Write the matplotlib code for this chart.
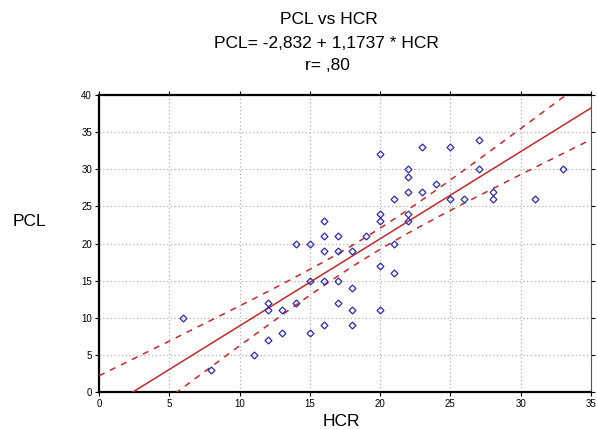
import numpy as np
import matplotlib
matplotlib.use("Agg")
import matplotlib.pyplot as plt

plt.rcParams['font.family'] = ['Liberation Sans', 'DejaVu Sans']

hcr = [6, 8, 11, 12, 12, 12, 13, 13, 14, 14, 15, 15, 15, 16, 16, 16, 16, 16,
       17, 17, 17, 17, 18, 18, 18, 18, 19, 20, 20, 20, 20, 20, 21, 21, 21,
       22, 22, 22, 22, 22, 23, 23, 24, 25, 25, 26, 27, 27, 28, 28, 31, 33]
pcl = [10, 3, 5, 12, 11, 7, 11, 8, 20, 12, 20, 15, 8, 23, 21, 19, 15, 9,
       21, 19, 15, 12, 19, 14, 11, 9, 21, 32, 24, 23, 17, 11, 26, 20, 16,
       30, 29, 27, 24, 23, 33, 27, 28, 33, 26, 26, 34, 30, 27, 26, 26, 30]
intercept = -2.832
slope = 1.1737
r_text = ",80"
xticks = [0, 5, 10, 15, 20, 25, 30, 35]
yticks = [0, 5, 10, 15, 20, 25, 30, 35, 40]

W, H = 597, 429
fig = plt.figure(figsize=(W / 100, H / 100), dpi=100)
ax = fig.add_axes([99 / W, 1 - 392 / H, (591 - 99) / W, (392 - 95) / H])

x = np.array(hcr, float)
y = np.array(pcl, float)
n = len(x)
xs = np.linspace(0, 35, 300)
fit = intercept + slope * xs
resid = y - (intercept + slope * x)
s = np.sqrt(np.sum(resid ** 2) / (n - 2))
se = s * np.sqrt(1 / n + (xs - x.mean()) ** 2 / np.sum((x - x.mean()) ** 2))
tval = 2.01
red = '#c8282a'
ax.plot(xs, fit, color=red, lw=1.1, zorder=3)
ax.plot(xs, fit + tval * se, color=red, lw=1.1, ls=(0, (4, 4)), zorder=3)
ax.plot(xs, fit - tval * se, color=red, lw=1.1, ls=(0, (4, 4)), zorder=3)

ax.plot(x, y, ls='none', marker='D', ms=3.5, mfc='none', mec='#2b2bb0',
        mew=0.9, zorder=4)

ax.set_xlim(0, 35)
ax.set_ylim(0, 40)
ax.set_xticks(xticks)
ax.set_yticks(yticks)
ax.grid(True, color='#b0b0b0', ls=(0, (1, 2)), lw=0.9)
ax.tick_params(direction='out', length=3, width=0.8, labelsize=7,
               top=True, right=True, pad=2)
for side in ['left', 'bottom', 'top']:
    ax.spines[side].set_linewidth(1.6)
ax.spines['right'].set_linewidth(0.8)
ax.spines['right'].set_color('#555555')

fs = 12.5
fig.text(329 / W, 1 - 20 / H, "PCL vs HCR", ha='center', va='center', fontsize=fs)
fig.text(326 / W, 1 - 43 / H, "PCL= -2,832 + 1,1737 * HCR", ha='center',
         va='center', fontsize=fs)
fig.text(327 / W, 1 - 65 / H, "r= " + r_text, ha='center', va='center', fontsize=fs)
fig.text(29 / W, 1 - 222 / H, "PCL", ha='center', va='center', fontsize=fs)
fig.text(341 / W, 1 - 421 / H, "HCR", ha='center', va='center', fontsize=fs)

fig.savefig("out.png", dpi=100)
